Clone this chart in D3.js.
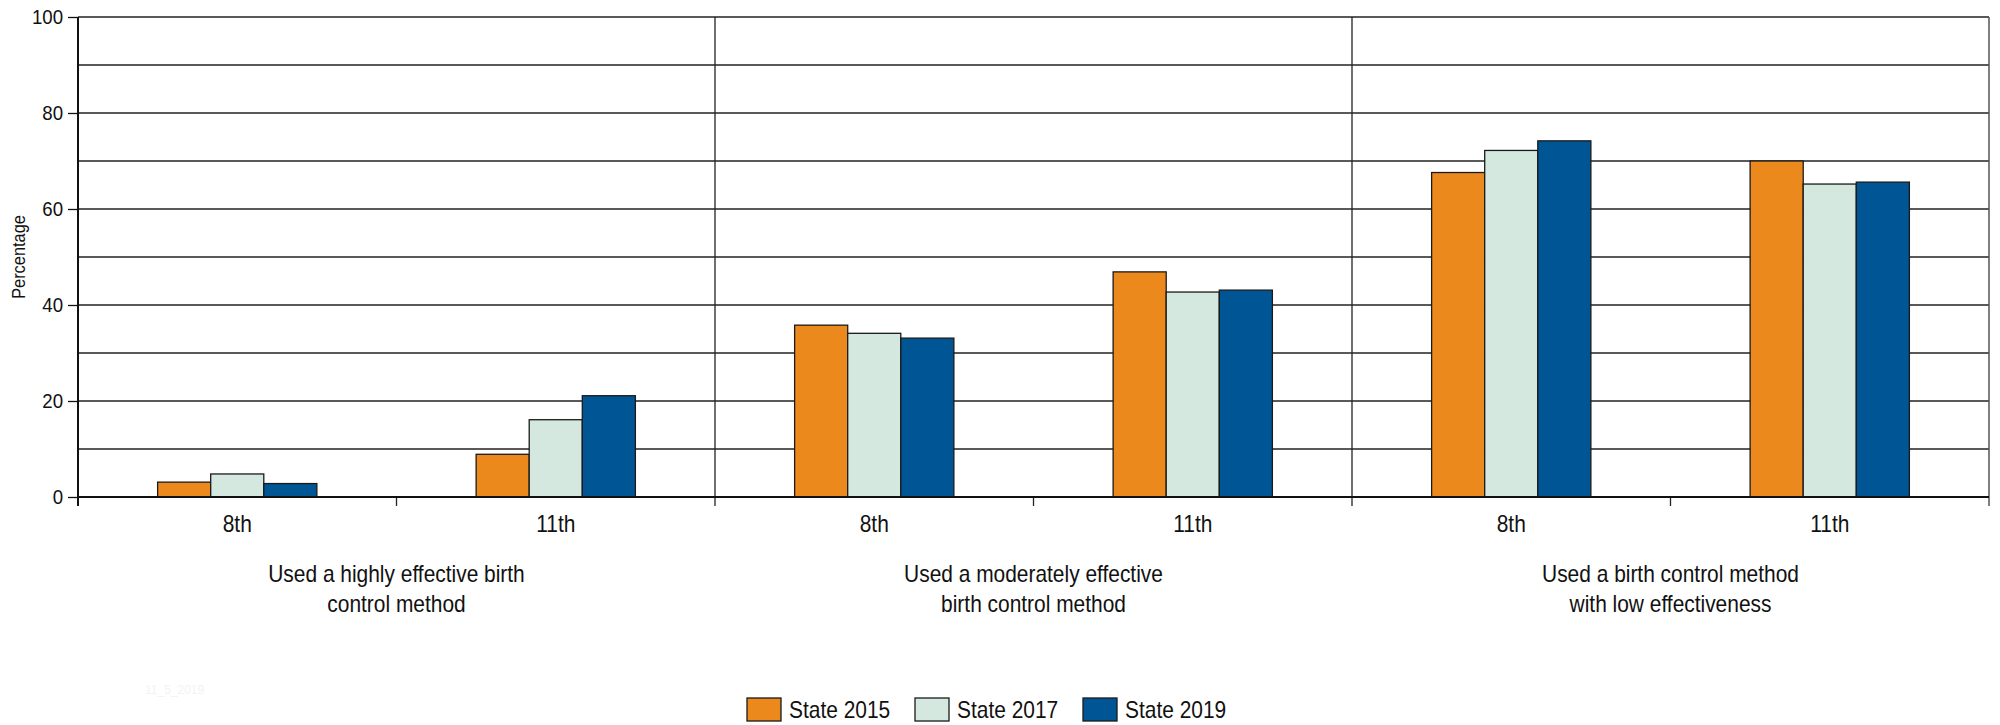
<!DOCTYPE html>
<html>
<head>
<meta charset="utf-8">
<script src="https://cdn.jsdelivr.net/npm/d3@7"></script>
<style>
  html, body { margin: 0; padding: 0; background: #fff; }
  svg { display: block; }
  text { font-family: "Liberation Sans", Arial, sans-serif; fill: #111; }
</style>
</head>
<body>
<svg id="chart" width="2000" height="725"></svg>
<script>
// ---- data ----
const groups = ["Used a highly effective birth control method",
                "Used a moderately effective birth control method",
                "Used a birth control method with low effectiveness"];
const groupLines = [["Used a highly effective birth", "control method"],
                    ["Used a moderately effective", "birth control method"],
                    ["Used a birth control method", "with low effectiveness"]];
const grades = ["8th", "11th"];
const seriesNames = ["State 2015", "State 2017", "State 2019"];
const state2015 = [3.1, 8.9, 35.8, 46.9, 67.6, 70.0];
const state2017 = [4.8, 16.1, 34.1, 42.7, 72.2, 65.2];
const state2019 = [2.8, 21.1, 33.1, 43.1, 74.2, 65.6];
const yTicks = [0, 20, 40, 60, 80, 100];
const yGrid = [10, 20, 30, 40, 50, 60, 70, 80, 90, 100];
const colors = ["#EC891D", "#D5E8DF", "#005595"];

// ---- layout ----
const svg = d3.select("#chart");
const pL = 78, pR = 1989, pT = 17, pB = 497;
const SX = 0.91; // horizontal condensing of text

function ctext(parent, x, yy, str, size, anchor, rot) {
  const g = parent.append("g")
    .attr("transform", `translate(${x},${yy})` + (rot ? ` rotate(${rot})` : "") + ` scale(${SX},1)`);
  return g.append("text").attr("text-anchor", anchor || "start")
    .style("font-size", size + "px").text(str);
}

const x0 = d3.scaleBand().domain(groups).range([pL, pR]).padding(0);
const x1 = d3.scaleBand().domain(grades).range([0, x0.bandwidth()]).padding(0);
const x2 = d3.scaleBand().domain(seriesNames).range([x1.bandwidth() * 0.25, x1.bandwidth() * 0.75]).padding(0);
const y = d3.scaleLinear().domain([0, 100]).range([pB, pT]);

const allSeries = [state2015, state2017, state2019];

// gridlines
svg.append("g").selectAll("line").data(yGrid).join("line")
  .attr("x1", pL).attr("x2", pR)
  .attr("y1", d => y(d)).attr("y2", d => y(d))
  .attr("stroke", "#222").attr("stroke-width", 1.3);

// group separators
svg.append("g").selectAll("line").data(groups.slice(1)).join("line")
  .attr("x1", d => x0(d)).attr("x2", d => x0(d))
  .attr("y1", pT).attr("y2", pB + 9)
  .attr("stroke", "#222").attr("stroke-width", 1.3);

// right border
svg.append("line").attr("x1", pR).attr("x2", pR).attr("y1", pT).attr("y2", pB + 9)
  .attr("stroke", "#555").attr("stroke-width", 1.5);

// sub ticks
svg.append("g").selectAll("line").data(groups).join("line")
  .attr("x1", d => x0(d) + x1("11th")).attr("x2", d => x0(d) + x1("11th"))
  .attr("y1", pB).attr("y2", pB + 9)
  .attr("stroke", "#222").attr("stroke-width", 1.3);

// bars
const rows = [];
groups.forEach((g, gi) => grades.forEach((gr, ri) => {
  seriesNames.forEach((s, si) => {
    rows.push({g, gr, s, si, v: allSeries[si][gi * 2 + ri]});
  });
}));
svg.append("g").selectAll("rect").data(rows).join("rect")
  .attr("x", d => x0(d.g) + x1(d.gr) + x2(d.s))
  .attr("y", d => y(d.v))
  .attr("width", x2.bandwidth())
  .attr("height", d => y(0) - y(d.v))
  .attr("fill", d => colors[d.si])
  .attr("stroke", "#1a1a1a").attr("stroke-width", 1.3);

// y axis
const yAxis = d3.axisLeft(y).tickValues(yTicks).tickSize(10).tickPadding(5);
const ya = svg.append("g").attr("transform", `translate(${pL},0)`).call(yAxis);
ya.select(".domain").attr("stroke", "#111").attr("stroke-width", 2).attr("d", `M0,${pT}V${pB + 9}`);
ya.selectAll(".tick line").attr("stroke", "#111").attr("stroke-width", 1.3);
ya.selectAll(".tick text")
  .style("font-family", "'Liberation Sans', Arial, sans-serif")
  .style("font-size", "20.5px").attr("fill", "#111")
  .attr("x", -15 / SX)
  .attr("transform", `scale(${SX},1)`);

// baseline
svg.append("line").attr("x1", pL).attr("x2", pR).attr("y1", y(0)).attr("y2", y(0))
  .attr("stroke", "#111").attr("stroke-width", 2.2);

// grade labels
groups.forEach(g => grades.forEach(gr => {
  ctext(svg, x0(g) + x1(gr) + x1.bandwidth() / 2, 532, gr, 23, "middle");
}));

// group labels
groups.forEach((g, i) => {
  groupLines[i].forEach((ln, j) => {
    ctext(svg, x0(g) + x0.bandwidth() / 2, 582 + j * 30, ln, 23, "middle");
  });
});

// y title
ctext(svg, 25, 257, "Percentage", 18, "middle", -90);

// legend
const legX = [747, 915, 1083];
const leg = svg.append("g").selectAll("g").data(seriesNames).join("g")
  .attr("transform", (d, i) => `translate(${legX[i]},698)`);
leg.append("rect").attr("width", 34).attr("height", 23)
  .attr("fill", (d, i) => colors[i]).attr("stroke", "#1a1a1a").attr("stroke-width", 1.3);
leg.each(function (d) { ctext(d3.select(this), 42, 20, d, 23, "start"); });

// faint stamp
svg.append("text").attr("x", 145).attr("y", 694).style("font-size", "12px")
  .style("fill", "#f3f3f3").text("11_5_2019");
</script>
</body>
</html>
